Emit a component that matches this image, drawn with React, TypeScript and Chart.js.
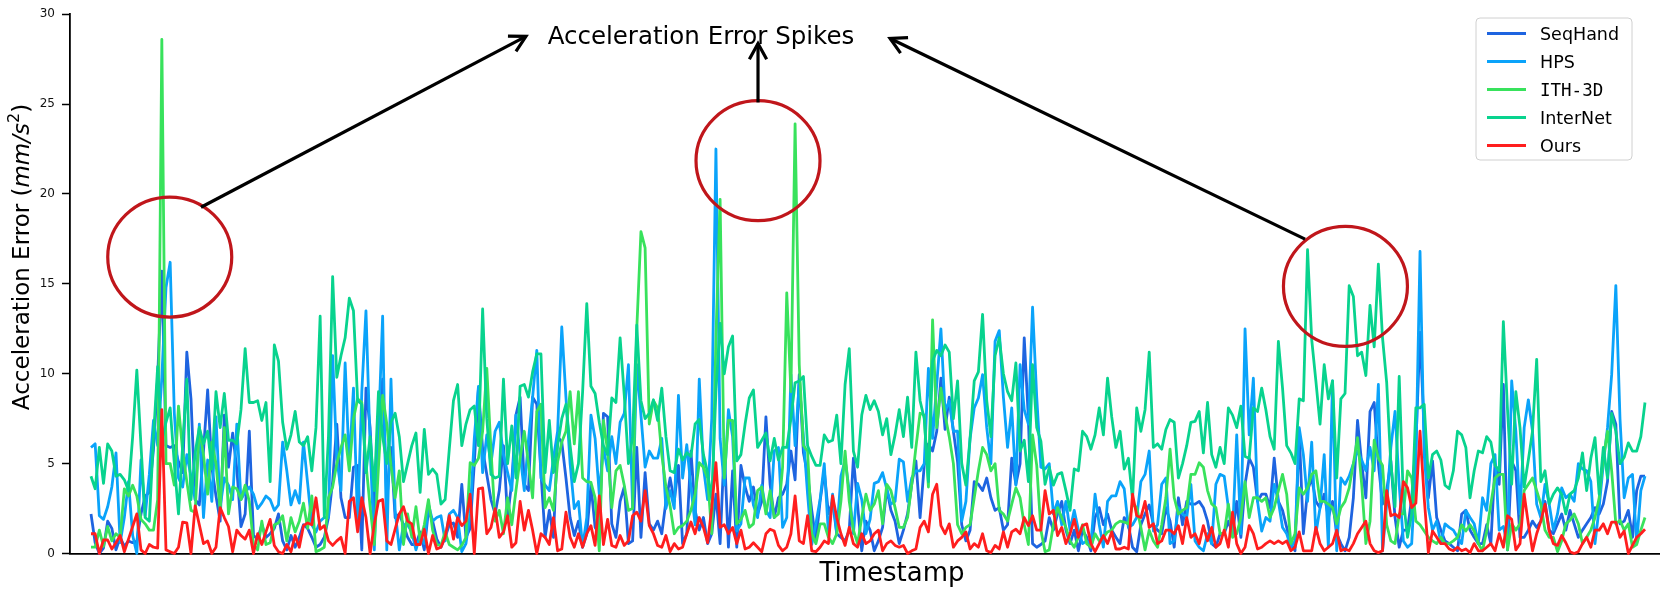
import React, { useEffect, useRef } from 'react';
import { Chart, registerables } from 'chart.js';

Chart.register(...registerables);

// ---------------- data ----------------
const seqHand = [
  2.2,0.6,0,0.3,1.8,1.4,0.2,0.9,0.4,0.7,0.6,0.7,2.2,3.2,3.4,5.8,9.8,15.7,6.0,5.9,6.0,5.1,4.5,11.2,8.6,3.0,2.7,5.7,9.1,4.8,3.2,1.8,7.7,4.8,6.7,4.7,1.5,2.2,6.8,1.0,0.8,1.6,
  0.9,1.1,1.4,2.2,0.7,0.2,1.0,0.35,0.9,1.6,1.4,0.9,0.35,0.5,0.9,2.0,4.0,7.2,3.1,2.0,2.0,4.8,4.9,0.2,9.2,7.0,2.2,7.0,9.7,2.9,5.9,2.0,2.2,1.6,0.9,0.5,0.5,
  1.2,0.2,2.4,1.8,0.8,0.35,0.9,1.6,1.7,0.9,3.85,0.9,1.4,5.0,9.2,5.8,4.4,3.0,2.2,3.5,6.0,2.0,4.0,7.7,8.7,3.85,3.5,8.7,8.3,4.5,0.9,2.4,0.9,6.5,6.2,4.2,2.0,1.0,
  1.8,0.35,1.1,3.8,1.45,1.1,7.8,7.6,1.65,0.9,2.9,3.7,0.55,0.7,5.9,0.9,4.5,1.65,1.3,1.8,1.1,2.9,4.2,2.9,4.9,0.55,1.1,5.7,2.4,1.3,2.0,0.55,1.1,3.3,0.55,5.9,0.35,
  4.6,0.35,4.9,3.7,2.9,3.7,2.2,2.9,7.6,3.85,2.0,3.1,3.3,3.85,5.7,4.1,9.95,5.6,4.4,2.4,0.7,2.9,4.6,2.2,2.9,1.1,0.9,0.7,1.3,5.3,2.7,0.15,1.8,1.3,0.15,0.7,1.45,
  3.6,2.4,1.8,0.55,1.3,2.2,3.85,5.15,2.0,4.9,6.1,5.7,6.8,9.75,6.9,8.7,6.8,5.1,1.6,0.7,1.3,4.0,3.85,3.5,4.2,3.1,2.4,2.55,1.3,1.6,5.3,3.85,5.0,12.0,7.5,0.55,0.35,
  0.5,0.7,2.0,1.3,2.2,2.9,1.3,0.55,1.3,0.15,1.3,0.9,0.15,2.0,2.55,1.6,2.2,1.3,0.9,0.55,2.0,1.6,0.35,0.1,1.6,2.2,2.7,1.6,1.3,1.1,2.55,1.8,0.35,3.1,1.6,2.9,2.75,
  2.75,2.9,2.55,1.8,0.55,0.35,1.1,1.1,1.8,1.1,2.9,0.9,3.85,5.3,4.8,2.9,3.3,3.3,2.55,5.3,2.9,2.4,1.45,0.55,0.15,6.8,1.1,3.5,4.2,2.9,2.55,3.3,2.0,2.9,1.1,0.55,0.15,
  0.9,3.1,7.4,5.0,3.1,7.9,8.4,5.0,2.75,3.5,5.15,2.0,0.35,1.3,1.3,3.1,6.0,12.3,6.8,3.1,5.15,2.0,1.3,0.7,0.55,0.35,0.15,2.2,2.4,1.3,0.9,0.55,0.55,1.6,0.55,5.0,3.85,
  9.4,0.2,5.15,4.6,0.9,0.9,1.3,1.8,1.45,1.8,2.9,1.3,1.1,1.65,2.2,1.3,2.4,1.65,0.9,1.3,1.65,2.0,2.55,2.2,2.75,4.0,7.9,7.2,1.65,1.8,2.4,0.9,3.5,4.3,4.3,
];

const hps = [
  5.9,6.1,2.1,1.9,2.6,3.7,5.6,0.6,2.0,4.0,1.0,0,5.2,2.1,4.4,7.4,6.0,9.8,14.8,16.2,7.8,4.2,3.7,5.5,4.3,3.0,7.2,2.0,5.2,2.9,7.6,2.6,4.2,3.8,3.0,7.2,3.0,3.4,3.7,3.3,2.5,2.8,
  3.2,3.0,2.4,2.7,6.2,4.6,2.7,3.5,2.8,6.2,3.9,1.6,1.2,1.8,2.0,2.0,11.0,5.3,3.5,10.6,4.9,9.2,1.6,9.0,13.5,6.0,0.2,6.8,13.2,0.2,9.7,2.4,0.2,1.6,1.6,1.2,0.2,
  1.0,0.55,2.75,1.8,2.0,2.1,0.7,2.2,2.4,2.0,0.1,0.55,2.2,6.4,9.3,4.5,6.6,5.0,6.8,7.3,5.5,4.5,3.5,7.7,5.5,3.5,6.3,8.7,11.3,4.2,3.8,3.5,5.3,6.8,12.6,8.7,5.0,2.5,
  2.9,0.35,2.0,7.7,6.4,3.3,5.9,4.6,6.5,5.0,7.3,7.8,10.5,2.5,10.5,7.7,4.8,5.7,5.3,5.3,6.4,2.5,3.5,2.5,8.8,4.2,6.05,3.7,1.6,9.7,4.8,3.0,7.5,22.5,6.4,3.8,8.0,
  6.5,1.25,1.65,4.2,4.2,2.7,2.0,3.8,2.4,2.0,5.7,5.9,1.45,2.0,9.95,6.0,9.5,6.5,3.3,0.5,1.65,3.0,5.0,1.1,3.3,1.1,4.3,5.2,3.5,1.1,3.9,3.0,1.1,1.9,3.9,4.0,4.5,
  3.6,2.75,2.9,5.25,5.1,2.9,4.2,4.6,4.6,5.0,10.3,6.4,9.4,12.5,7.9,8.5,6.8,6.8,1.8,2.9,6.4,8.1,8.65,9.95,7.0,5.0,11.8,12.4,8.7,5.9,8.1,3.8,10.5,8.0,7.2,13.7,8.7,
  4.8,4.7,5.0,2.2,2.9,1.6,2.9,1.3,2.4,1.3,0.55,0.7,0.55,3.3,1.6,0.35,2.9,3.2,3.2,4.0,3.6,1.45,1.6,2.0,4.0,4.4,5.7,1.25,1.6,3.85,4.2,0.55,0.7,2.55,2.2,2.0,3.85,
  0.7,0.35,0.15,1.1,0.55,3.85,4.4,4.3,2.55,1.1,6.6,1.1,12.5,6.6,9.75,2.9,1.25,2.0,1.8,3.85,2.9,1.45,1.1,0.35,0.7,7.0,5.5,2.9,6.2,1.1,2.55,5.5,0.35,9.6,0.15,4.2,3.85,
  4.3,5.0,5.7,5.2,4.6,5.9,4.6,9.4,0.15,2.75,5.9,7.9,3.8,0.7,0.35,0.55,5.0,16.8,5.5,2.55,1.3,1.8,0.55,1.65,1.45,1.3,0.9,0.55,2.4,2.0,1.65,0.55,3.1,2.4,5.0,5.5,1.3,
  1.5,0.5,9.6,6.8,2.2,7.0,8.55,6.8,2.75,2.0,3.85,2.75,1.3,2.2,3.65,3.1,3.3,2.9,5.0,4.7,4.6,4.0,0.55,2.55,5.0,7.0,9.95,14.9,7.5,3.1,4.2,4.4,0.55,3.5,4.3,
];

const ith3d = [
  0.35,0.35,1.3,0.4,1.5,0.7,1.1,0.9,3.6,3.2,3.8,3.2,1.9,1.65,1.3,1.3,3.0,28.6,5.0,5.0,3.8,8.2,5.7,4.0,2.4,2.3,7.0,5.5,3.3,6.2,5.0,2.4,7.0,2.2,3.7,3.6,3.0,3.8,2.9,0.5,0.2,1.8,
  0.5,0.6,1.6,1.7,2.1,0.7,2.0,1.2,1.8,2.8,1.4,3.2,0.1,0.2,0.35,3.1,3.7,5.0,5.9,6.6,4.6,7.5,8.6,8.4,5.0,2.6,0.5,4.8,8.8,7.2,4.9,3.1,4.6,0.5,2.2,0.9,2.6,
  0.7,1.6,3.0,1.3,0.5,0.45,1.2,0.5,0.35,0.2,0.45,0.9,5.05,4.9,5.3,6.8,10.3,5.8,1.8,2.4,1.1,3.1,1.6,3.5,5.3,6.8,5.0,3.1,7.9,8.3,2.55,3.1,2.4,5.1,6.2,6.8,9.0,6.1,
  9.0,4.2,4.0,3.95,3.1,0.15,7.4,5.7,2.55,4.6,4.9,3.8,2.4,2.5,12.5,17.9,17.0,7.2,8.5,8.1,5.5,3.7,2.65,1.1,1.45,1.55,1.8,2.4,3.3,5.05,4.8,4.2,1.1,12.0,19.7,4.2,7.4,
  7.4,1.65,1.9,2.4,1.45,1.65,3.5,3.7,2.2,3.5,2.0,2.2,4.8,14.5,9.0,23.9,10.5,6.0,5.7,1.1,0.55,1.65,1.65,0.9,0.55,1.1,2.9,5.7,2.9,1.3,0.55,2.0,3.3,2.4,2.75,3.5,1.65,
  3.85,3.5,2.55,1.45,1.45,2.0,3.85,5.9,7.8,7.7,3.7,13.0,7.0,9.2,7.7,6.5,5.0,1.6,1.1,1.45,1.6,3.1,4.6,5.9,5.5,4.6,5.0,2.4,2.2,1.8,2.75,3.65,3.1,1.6,0.5,6.6,4.9,
  1.3,0.1,0.2,1.6,2.55,2.0,1.45,0.7,0.35,0.9,1.6,0.55,0.35,1.1,0.7,0.9,1.2,1.3,1.65,1.8,1.75,1.65,2.75,2.55,1.45,0.2,1.3,0.7,0.35,1.6,3.1,5.8,3.1,2.2,2.4,2.55,4.4,
  4.4,5.05,4.8,3.5,2.75,2.55,1.1,1.1,2.75,0.9,1.1,2.0,4.0,2.0,3.1,3.1,2.9,3.1,2.0,2.55,3.5,4.4,3.3,0.55,1.1,3.65,3.3,3.65,4.4,4.6,2.9,2.9,2.75,2.55,1.65,2.55,2.9,
  3.65,5.0,6.45,3.85,0.55,1.8,6.3,5.3,4.9,1.6,0.7,0.55,2.2,2.2,4.6,4.2,1.8,1.6,1.25,0.9,0.7,0.55,0.9,0.55,0.55,0.7,0.9,1.6,1.25,1.6,1.25,0.55,0.15,1.25,2.75,4.2,4.4,
  4.4,0.2,1.65,1.3,1.65,3.5,3.85,4.2,3.5,2.75,1.3,0.9,0.9,0.1,0.7,1.65,1.85,2.2,1.65,0.55,0.9,1.3,2.0,3.1,5.3,6.8,4.6,1.65,1.85,1.3,1.65,0.35,0.5,1.3,2.0,
];

const interNet = [
  4.3,3.6,5.9,3.9,6.1,5.7,4.3,4.4,4.1,3.5,6.5,10.2,6.0,2.0,1.8,6.5,10.4,6.3,7.3,8.1,5.0,2.2,6.0,9.7,3.0,5.6,7.0,6.1,6.8,4.7,9.0,7.0,8.9,6.3,6.3,6.1,8.0,11.4,8.4,8.4,8.5,7.4,
  8.4,4.0,11.6,10.7,7.3,5.8,6.6,7.9,6.2,6.0,6.5,4.6,7.0,13.2,2.0,6.5,15.4,9.8,11.0,12.0,14.2,13.5,8.5,8.3,4.5,6.5,3.5,9.0,6.5,5.0,7.3,7.8,6.5,4.0,5.0,6.0,6.7,
  3.4,6.9,4.4,4.7,4.4,2.75,3.0,5.8,8.5,9.4,6.0,7.2,8.0,8.2,6.0,13.6,7.5,4.4,4.2,4.3,9.7,5.0,7.1,4.2,9.3,9.4,8.7,10.1,11.1,11.1,4.5,7.4,4.5,6.0,7.5,8.3,6.0,4.0,
  5.0,9.0,13.9,9.3,8.9,7.3,6.0,5.5,8.65,8.4,12.0,8.8,5.0,6.5,12.7,8.5,7.5,7.8,8.55,7.4,9.2,6.5,4.6,4.5,5.8,5.2,5.6,5.4,7.2,7.45,5.5,4.5,3.0,9.0,12.8,10.0,11.5,
  12.1,5.15,5.5,7.2,8.65,9.1,5.9,6.3,6.7,5.15,6.4,5.2,5.9,5.9,7.5,9.5,9.6,9.85,6.0,5.4,4.9,4.9,6.6,6.2,6.3,7.7,5.0,9.4,11.4,5.7,4.8,7.7,8.8,8.0,8.5,7.9,6.6,
  7.5,5.5,6.6,8.0,6.5,8.7,5.9,11.2,8.5,7.5,4.0,10.7,11.3,11.0,11.6,11.2,7.5,9.6,5.0,3.8,6.4,9.6,10.1,13.3,8.5,6.5,11.0,12.0,10.0,9.0,8.5,10.6,5.7,6.3,4.0,10.5,7.0,
  6.25,3.85,4.8,3.8,4.4,4.5,3.5,2.4,4.7,4.6,6.8,6.5,5.8,6.6,8.1,6.6,9.75,7.6,5.9,6.8,4.7,5.3,3.0,8.1,6.8,8.0,11.2,5.9,6.1,5.8,6.9,7.45,7.3,4.2,5.0,6.0,7.3,
  7.35,7.9,5.6,8.4,5.5,4.8,5.9,5.0,8.1,7.7,7.0,8.2,5.4,5.3,8.1,7.9,9.2,8.0,6.5,5.8,11.8,9.2,6.0,5.6,5.0,8.6,8.5,16.9,11.9,9.6,7.2,10.5,8.6,9.6,4.2,8.6,8.9,
  14.9,14.3,11.0,11.2,9.9,13.8,11.5,16.1,12.0,9.5,5.0,2.6,9.85,3.0,0.9,2.2,8.1,8.1,8.3,4.2,5.5,5.7,5.2,3.8,3.6,4.6,6.8,6.6,5.9,3.1,4.6,5.7,5.6,6.5,6.2,4.9,4.6,
  12.9,8.0,3.85,9.0,7.0,3.7,5.2,6.8,10.8,4.0,4.6,2.75,3.3,3.65,3.3,2.2,3.3,3.5,4.2,5.6,3.5,5.3,6.45,3.3,5.9,4.2,7.8,6.8,5.0,5.35,6.15,5.7,5.7,6.5,8.4,
];

const ours = [
  1.1,1.1,0,0.75,0.75,0.25,0.6,1.0,0.1,0.8,1.5,2.2,0.2,0,0.5,0.35,0.3,8.0,0.2,0.1,0,0.35,1.75,1.7,0,2.65,1.6,0.55,0.7,0,0.35,2.55,2.0,1.5,0.1,1.3,1.0,0.8,1.3,0,1.1,0.5,
  1.2,1.9,0.45,0.1,0,0.5,0.1,1.0,0.35,1.55,1.7,1.6,3.1,1.35,1.55,0.7,0.45,0.7,0.9,0,2.9,3.1,1.2,3.1,2.0,0,1.65,2.9,3.0,0.7,0.5,1.35,2.2,2.6,1.8,1.65,0.5,
  0.5,1.35,0,1.0,0.25,0.35,0.9,2.1,0.8,2.0,1.55,1.8,3.3,0,3.6,3.65,1.1,1.45,2.5,0.9,1.2,2.1,0.35,0.6,2.9,1.3,2.4,1.3,0,1.1,0.9,0.5,2.0,0.15,0.25,2.3,0.9,0.35,
  1.1,0.35,1.1,1.55,0.45,3.2,0.5,1.9,0.45,0.35,1.0,0.45,0.7,2.1,2.3,1.8,3.5,1.55,1.1,0.45,0.35,1.0,0.1,0.55,0.25,0.35,1.1,1.75,1.1,2.0,1.45,0.6,2.55,5.05,1.45,1.6,1.1,
  1.45,0.55,1.3,0.25,0.35,0.6,0.35,0.1,1.1,1.35,1.25,0.45,0.15,0.35,1.1,3.2,0.7,0.55,2.1,0.15,0.1,0.35,0.7,0.55,3.2,2.0,1.1,0.45,1.45,0.55,0.35,1.1,0.55,0.7,1.1,1.3,0.15,
  0.55,0.7,0.45,0.35,0.45,0,0.15,0.25,1.45,1.8,1.2,3.3,3.85,1.55,1.1,1.65,0.35,0.7,0.9,1.2,0.25,0.55,0.35,1.1,0.15,0.05,0.45,0.25,1.2,0.35,1.2,1.35,1.1,2.0,1.55,2.1,1.3,
  1.3,3.5,2.2,2.4,1.0,1.45,0.55,1.1,1.9,0.9,1.55,1.65,0.55,0.1,0.55,1.0,0.55,1.2,0.25,0.25,0.35,0.25,3.3,2.1,2.0,2.9,1.45,1.65,0.55,0.7,1.3,1.3,1.1,1.55,0.55,2.0,0.9,
  1.1,0.55,1.55,0.7,1.45,0.35,0.55,1.3,0.35,2.3,0.55,0,0.35,1.55,1.1,0.25,0.35,0.55,0.7,0.55,0.7,0.55,0.7,0.15,0.35,1.2,0.15,0.15,0.15,1.45,0.55,0.15,0.35,0.55,1.3,0.15,0.25,
  0.15,0.55,1.1,1.45,1.8,0.55,0.15,0.05,0.15,3.5,2.1,2.2,2.0,4.0,3.65,2.55,2.8,6.8,3.1,0.05,1.25,0.9,0.55,0.55,0.25,0.15,0.35,0.15,0.25,0.05,0.55,0.15,0.15,0.35,0.55,0.15,1.1,
  0.35,2.1,1.9,0.2,0.55,3.3,1.65,0.15,1.1,1.8,2.75,1.25,0.55,0.45,1.0,0.6,0.1,0,0.1,0.55,0.9,0.35,1.3,1.3,1.65,1.1,1.75,1.75,0.9,1.25,0,0.45,0.9,1.1,1.35,
];

const timestamps = ours.map((_, i) => i);
const seriesNames = ['SeqHand', 'HPS', 'ITH-3D', 'InterNet', 'Ours'];
const seriesData = [seqHand, hps, ith3d, interNet, ours];
const seriesColors = ['#1e64e0', '#0aa3fa', '#38e25c', '#08d38e', '#ff1e1e'];
const yTickStep = 5;
const yMax = 30;
const xTitleText = 'Timestamp';
const annotationText = 'Acceleration Error Spikes';

// annotation anchors in data coordinates (index, value)
const spikeCircles = [
  { x: 18.9, y: 16.49 },
  { x: 160.1, y: 21.85 },
  { x: 301.1, y: 14.86 },
];
const spikeArrows = [
  { from: { x: 26.4, y: 19.26 }, to: { x: 104.4, y: 28.77 } },
  { from: { x: 160.1, y: 25.09 }, to: { x: 160.1, y: 28.37 } },
  { from: { x: 291.4, y: 17.49 }, to: { x: 191.8, y: 28.65 } },
];
const annotationAnchor = { x: 146.4, y: 28.37 };

const FONT = '"DejaVu Sans", "Liberation Sans", sans-serif';
const MONO = '"DejaVu Sans Mono", monospace';

const decorPlugin = {
  id: 'decor',
  afterDraw(chart: any) {
    const { ctx } = chart;
    const xs = chart.scales.x;
    const ys = chart.scales.y;
    const px = (v: number) => xs.getPixelForValue(v);
    const py = (v: number) => ys.getPixelForValue(v);
    ctx.save();

    // red circles around the spikes
    ctx.strokeStyle = '#c0161b';
    ctx.lineWidth = 3.2;
    spikeCircles.forEach((c) => {
      ctx.beginPath();
      ctx.ellipse(px(c.x), py(c.y), 62, 60, 0, 0, Math.PI * 2);
      ctx.stroke();
    });

    // arrows
    ctx.strokeStyle = '#000';
    ctx.lineWidth = 3.2;
    ctx.lineJoin = 'miter';
    ctx.lineCap = 'butt';
    spikeArrows.forEach((a) => {
      const x0 = px(a.from.x), y0 = py(a.from.y);
      const x1 = px(a.to.x), y1 = py(a.to.y);
      ctx.beginPath();
      ctx.moveTo(x0, y0);
      ctx.lineTo(x1, y1);
      ctx.stroke();
      const ang = Math.atan2(y1 - y0, x1 - x0);
      const L = 18, w = 0.5;
      ctx.beginPath();
      ctx.moveTo(x1 - L * Math.cos(ang - w), y1 - L * Math.sin(ang - w));
      ctx.lineTo(x1, y1);
      ctx.lineTo(x1 - L * Math.cos(ang + w), y1 - L * Math.sin(ang + w));
      ctx.stroke();
    });

    // annotation title
    ctx.fillStyle = '#000';
    ctx.font = `24.5px ${FONT}`;
    ctx.textAlign = 'center';
    ctx.textBaseline = 'alphabetic';
    ctx.fillText(annotationText, px(annotationAnchor.x), py(annotationAnchor.y));

    // x-axis title
    ctx.font = `26px ${FONT}`;
    ctx.fillText(xTitleText, 892, 581);

    // y-axis title with italic unit and superscript
    const fs = 23;
    const parts = [
      { t: 'Acceleration Error (', f: `${fs}px ${FONT}`, dy: 0 },
      { t: 'mm/s', f: `italic ${fs}px ${FONT}`, dy: 0 },
      { t: '2', f: `${Math.round(fs * 0.7)}px ${FONT}`, dy: -fs * 0.42 },
      { t: ')', f: `${fs}px ${FONT}`, dy: 0 },
    ];
    let total = 0;
    const widths = parts.map((p) => {
      ctx.font = p.f;
      const w = ctx.measureText(p.t).width;
      total += w;
      return w;
    });
    ctx.save();
    ctx.translate(28.5, 257);
    ctx.rotate(-Math.PI / 2);
    ctx.textAlign = 'left';
    let cx = -total / 2;
    parts.forEach((p, i) => {
      ctx.font = p.f;
      ctx.fillText(p.t, cx, p.dy);
      cx += widths[i];
    });
    ctx.restore();

    // legend box
    const bx = 1476, by = 18, bw = 156, bh = 142, r = 4;
    ctx.beginPath();
    ctx.moveTo(bx + r, by);
    ctx.lineTo(bx + bw - r, by);
    ctx.quadraticCurveTo(bx + bw, by, bx + bw, by + r);
    ctx.lineTo(bx + bw, by + bh - r);
    ctx.quadraticCurveTo(bx + bw, by + bh, bx + bw - r, by + bh);
    ctx.lineTo(bx + r, by + bh);
    ctx.quadraticCurveTo(bx, by + bh, bx, by + bh - r);
    ctx.lineTo(bx, by + r);
    ctx.quadraticCurveTo(bx, by, bx + r, by);
    ctx.closePath();
    ctx.fillStyle = 'rgba(255,255,255,0.8)';
    ctx.fill();
    ctx.strokeStyle = '#d0d0d0';
    ctx.lineWidth = 1;
    ctx.stroke();

    ctx.textAlign = 'left';
    ctx.textBaseline = 'alphabetic';
    seriesNames.forEach((name, i) => {
      const ry = 33.5 + i * 28;
      ctx.strokeStyle = seriesColors[i];
      ctx.lineWidth = 3;
      ctx.beginPath();
      ctx.moveTo(1487, ry);
      ctx.lineTo(1526, ry);
      ctx.stroke();
      ctx.fillStyle = '#000';
      ctx.font = name === 'ITH-3D' ? `17.5px ${MONO}` : `17.5px ${FONT}`;
      ctx.fillText(name, 1540, ry + 6.4);
    });

    ctx.restore();
  },
};

export default function App() {
  const canvasRef = useRef<HTMLCanvasElement | null>(null);

  useEffect(() => {
    if (!canvasRef.current) return;
    const n = timestamps.length;
    const step = (1645 - 91) / (n - 1);
    const chart = new Chart(canvasRef.current, {
      type: 'line',
      data: {
        labels: timestamps,
        datasets: seriesData.map((d, i) => ({
          label: seriesNames[i],
          data: d,
          borderColor: seriesColors[i],
          backgroundColor: seriesColors[i],
          borderWidth: 2.8,
          pointRadius: 0,
          pointHoverRadius: 0,
          tension: 0,
          fill: false,
          clip: false as any,
          borderJoinStyle: 'round' as const,
          order: seriesData.length - i,
        })),
      },
      options: {
        responsive: false,
        devicePixelRatio: 1,
        animation: false,
        events: [],
        layout: { padding: { top: 10.6, left: 0, right: 0, bottom: 0 } },
        plugins: {
          legend: { display: false },
          tooltip: { enabled: false },
          title: { display: false },
        },
        scales: {
          x: {
            type: 'linear',
            min: -21 / step,
            max: n - 1 + 15 / step,
            z: 1,
            ticks: { display: false },
            grid: { display: false },
            border: { display: true, color: '#000', width: 1.8 },
            afterFit: (scale: any) => { scale.height = 35.5; },
          },
          y: {
            type: 'linear',
            min: 0,
            max: yMax,
            z: 1,
            ticks: {
              stepSize: yTickStep,
              color: '#111',
              padding: 7,
              font: { family: FONT, size: 12 },
            },
            grid: {
              display: true,
              drawOnChartArea: false,
              drawTicks: true,
              tickLength: 8,
              tickColor: '#000',
              tickWidth: 1.5,
            },
            border: { display: true, color: '#000', width: 1.8 },
            afterFit: (scale: any) => { scale.width = 70; },
          },
        },
      },
      plugins: [decorPlugin],
    });
    return () => chart.destroy();
  }, []);

  return (
    <div style={{ position: 'fixed', left: 0, top: 0, width: 1660, height: 589, background: '#fff' }}>
      <canvas ref={canvasRef} width={1660} height={589} style={{ width: 1660, height: 589, display: 'block' }} />
    </div>
  );
}
